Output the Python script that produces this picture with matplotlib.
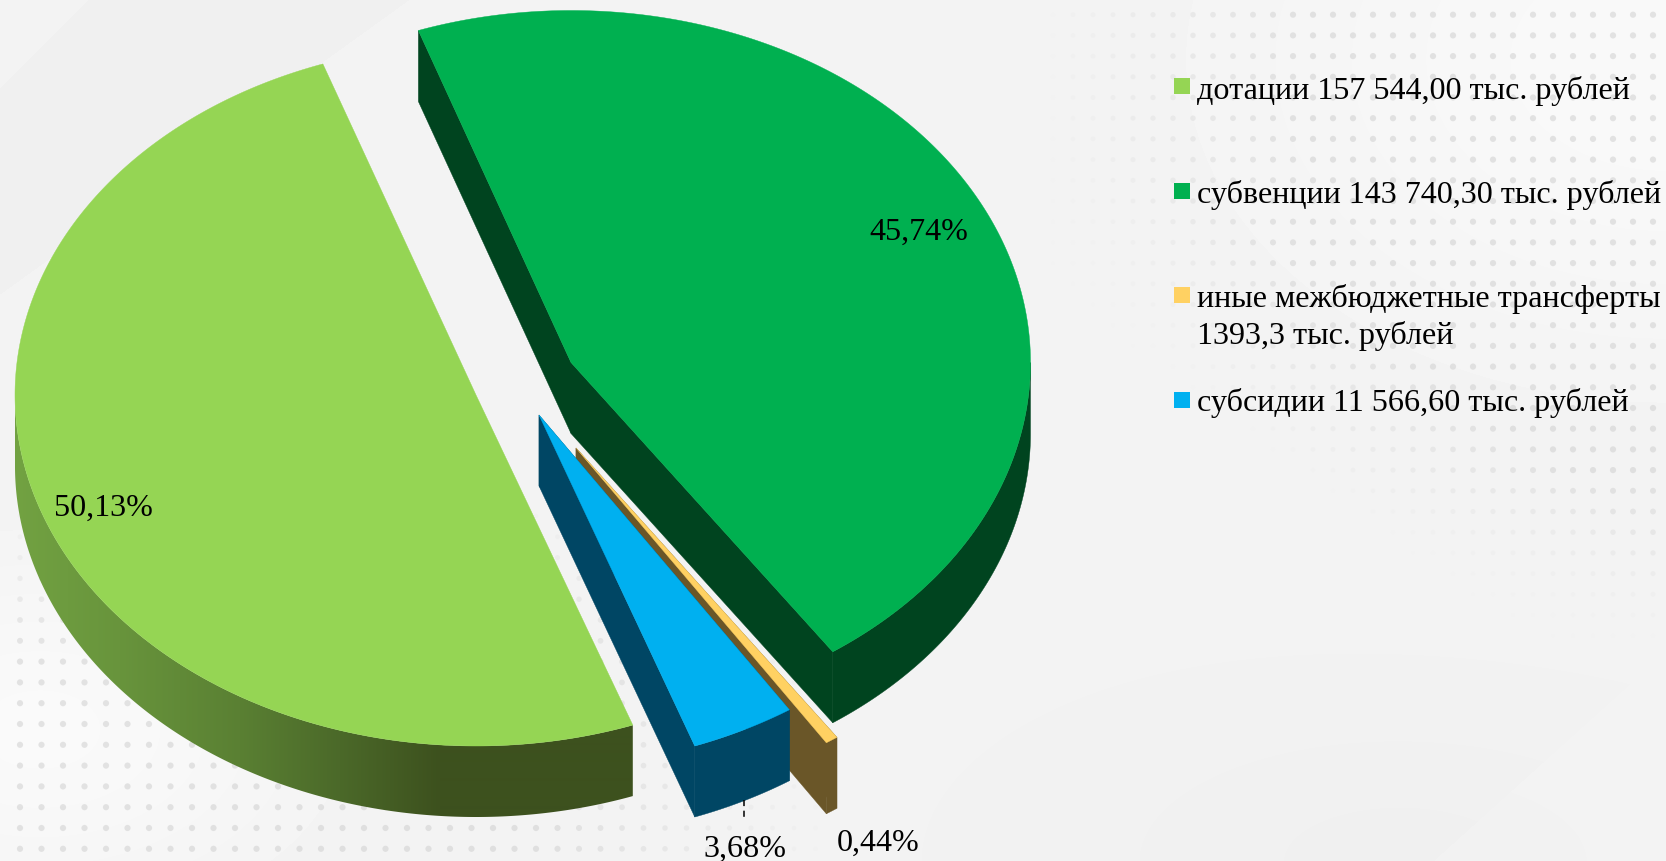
import numpy as np
import matplotlib
matplotlib.use("Agg")
import matplotlib.pyplot as plt
from matplotlib.patches import Polygon, Rectangle

# ---- data (clockwise order of the pie) ----
categories = ["субвенции", "иные межбюджетные трансферты", "субсидии", "дотации"]
amounts = [143740.30, 1393.30, 11566.60, 157544.00]
share_labels = ["45,74%", "0,44%", "3,68%", "50,13%"]
legend_labels = ["дотации 157 544,00 тыс. рублей",
                 "субвенции 143 740,30 тыс. рублей",
                 "иные межбюджетные трансферты\n1393,3 тыс. рублей",
                 "субсидии 11 566,60 тыс. рублей"]

# ---- style / layout ----
W, H = 1666, 862
FONT = "Liberation Serif"
FS = 23.1
DEPTH = 71
START = 109.4
centers = [(571, 363.5), (576, 449), (539, 416), (476, 396)]
radii = [(459.5, 352), (458, 352), (458, 352), (461, 351)]
tops = ["#00b050", "#ffd162", "#00b0f0", "#95d554"]
sides = ["#00441f", "#6a5628", "#004664", "#3d511e"]
label_pos = [(919, 232), (878, 843), (745, 849), (103, 508)]
legend_colors = ["#95d554", "#00b050", "#ffd162", "#00b0f0"]
legend_y = [87, 192, 296, 401]
legend_base = [[99], [203], [307, 344], [411]]

fig = plt.figure(figsize=(W / 100, H / 100), dpi=100)
ax = fig.add_axes([0, 0, 1, 1])
ax.set_xlim(0, W)
ax.set_ylim(H, 0)
ax.axis("off")

# ---- background ----
yy, xx = np.mgrid[0:H, 0:W]
bg = np.full((H, W), 0.950)
bg += 0.026 * np.exp(-(((xx - 1666) / 420) ** 2 + ((yy - 60) / 300) ** 2))
bg += 0.028 * np.exp(-(((xx - 40) / 260) ** 2 + ((yy - 730) / 170) ** 2))
bg -= 0.010 * np.exp(-(((xx - 1400) / 300) ** 2 + ((yy - 862) / 140) ** 2))
band = (xx * 0.72 + yy - 295 < 0) & (xx + yy > 88)
bg[band] -= 0.009
bg[(yy - 862) + (xx - 1433) * 0.9 > 0] += 0.006
ax.imshow(bg, cmap="gray", vmin=0, vmax=1, extent=(0, W, H, 0), aspect="auto",
          interpolation="bilinear", zorder=0)

# decorative dot fields
gx, gy = np.meshgrid(np.arange(1013, W + 8, 20.0), np.arange(15.7, 660, 20.7))
gx, gy = gx.ravel(), gy.ravel()
s1 = np.clip(-((gy - 300) - (gx - 1060) * 0.727) / 200, 0, 1) \
    * np.clip((gx - 1040) / 260, 0, 1) * np.clip((650 - gy) / 180, 0, 1)
hx, hy = np.meshgrid(np.arange(20, 820, 21.5), np.arange(517, 862, 20.8))
hx, hy = hx.ravel(), hy.ravel()
s2 = np.clip((hy - 500) / 160, 0, 1) * np.clip((840 - hx) / 300, 0, 1)
dx = np.r_[gx, hx]
dy = np.r_[gy, hy]
ds = np.r_[s1, s2]
rgba = np.zeros((dx.size, 4))
rgba[:, :3] = 0.80
rgba[:, 3] = 0.5 * ds
ax.scatter(dx, dy, s=20 * (0.5 + 0.5 * ds), c=rgba, linewidths=0, zorder=1)


def ell(c, r, t):
    t = np.radians(t)
    return np.c_[c[0] + r[0] * np.cos(t), c[1] - r[1] * np.sin(t)]


# ---- 3D pie: angles come from the amounts ----
fractions = np.array(amounts) / np.sum(amounts)
edges = START - 360 * np.r_[0, np.cumsum(fractions)]
z = 2
for i, (c, r, top, side) in enumerate(zip(centers, radii, tops, sides)):
    t0, t1 = edges[i], edges[i + 1]          # t1 < t0, clockwise
    arc = ell(c, r, np.linspace(t0, t1, 400))
    down = np.array([0, DEPTH])
    apex = np.array(c, float)
    # cut faces
    if categories[i] != "дотации":
        for p in (arc[0], arc[-1]):
            ax.add_patch(Polygon([apex, p, p + down, apex + down], fc=side, ec=side, lw=0.3, zorder=z))
    # outer wall (only the lower, visible part of the rim)
    lo = max(t1, -180)
    hi = min(t0, 0)
    rim = ell(c, r, np.linspace(lo, hi, 400))
    wall = np.vstack([rim, (rim + down)[::-1]])
    wp = Polygon(wall, fc=side, ec=side, lw=0.3, zorder=z)
    ax.add_patch(wp)
    if categories[i] == "дотации":
        xs = np.array([15, 120, 240, 340, 440, 640])
        cols = np.array([[0x72, 0xa2, 0x42], [0x68, 0x94, 0x3c], [0x5a, 0x80, 0x33],
                         [0x4b, 0x69, 0x29], [0x3d, 0x51, 0x1e], [0x3d, 0x51, 0x1e]]) / 255
        grid = np.linspace(0, 640, 640)
        img = np.stack([np.interp(grid, xs, cols[:, k]) for k in range(3)], axis=-1)[None, :, :]
        im = ax.imshow(img, extent=(0, 640, 900, 300), aspect="auto", zorder=z + 0.1,
                       interpolation="bilinear")
        wp.set_facecolor("none")
        wp.set_edgecolor("none")
        im.set_clip_path(wp)
    ax.add_patch(Polygon(np.vstack([apex, arc]), fc=top, ec=top, lw=0.3, zorder=z + 0.2))
    z += 1
ax.set_xlim(0, W)
ax.set_ylim(H, 0)

# share labels and leader
for lab, (x, y) in zip(share_labels, label_pos):
    ax.text(x, y, lab, family=FONT, fontsize=FS, color="black", ha="center", va="center", zorder=20)
ax.plot([744, 744], [801, 822], color="black", lw=1.1, ls=(0, (4, 3)), zorder=19)

# legend
for lab, col, y, bases in zip(legend_labels, legend_colors, legend_y, legend_base):
    ax.add_patch(Rectangle((1174, y - 8), 16, 16, fc=col, ec="none", zorder=20))
    for line, b in zip(lab.split("\n"), bases):
        ax.text(1197, b, line, family=FONT, fontsize=FS, color="black",
                ha="left", va="baseline", zorder=20)

fig.savefig("out.png", dpi=100)
